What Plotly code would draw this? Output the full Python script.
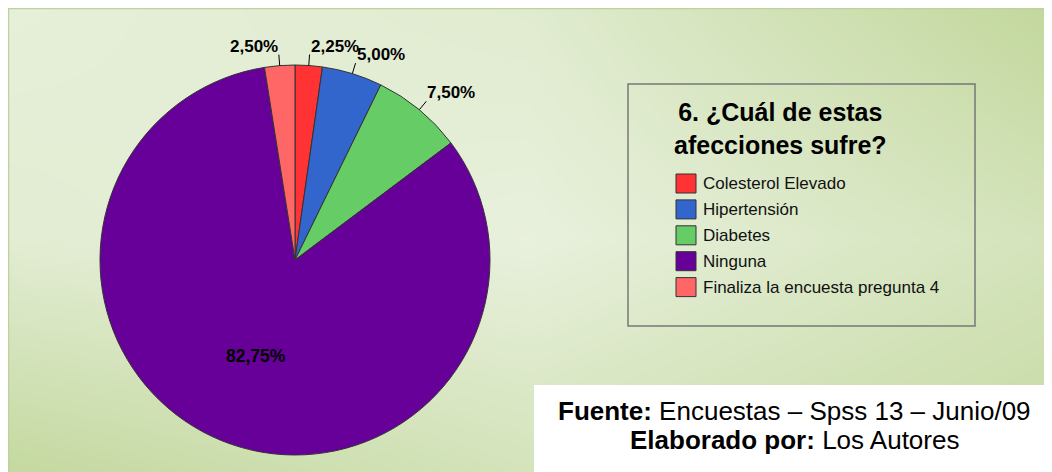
import math
import plotly.graph_objects as go

# ---------------- data ----------------
categories = ["Colesterol Elevado", "Hipertensión", "Diabetes", "Ninguna",
              "Finaliza la encuesta pregunta 4"]
values = [2.25, 5.00, 7.50, 82.75, 2.50]
slice_colors = ["#ff3333", "#3366cc", "#66cc66", "#660099", "#ff6666"]
chart_title = "6. ¿Cuál de estas<br>afecciones sufre?"
source_line1 = "<b>Fuente:</b> Encuestas – Spss 13 – Junio/09"
source_line2 = "<b>Elaborado por:</b> Los Autores"

# ---------------- layout constants (window pixels) ----------------
W, H = 1052, 472          # window size
OX, OY = 8, 8             # page body margin -> figure origin in the window
FW, FH = W - OX, H - OY   # figure size
CX, CY, R = 295, 260, 195
FONT = "Liberation Sans, Arial, sans-serif"

fig = go.Figure()

# background gradient (style only)
grad_z = [[0.10, 0.25, 1.00],
          [0.20, 0.05, 0.55],
          [0.95, 0.55, 0.90]]
fig.add_trace(go.Heatmap(
    z=grad_z, x=[OX, (OX + W) / 2, W], y=[OY, (OY + H) / 2, H], zsmooth="best",
    colorscale=[[0, "#eaf2e0"], [1, "#c2d79c"]], zmin=0, zmax=1,
    showscale=False, hoverinfo="skip", xaxis="x", yaxis="y"))

# pie
fig.add_trace(go.Pie(
    labels=categories, values=values, sort=False, direction="clockwise",
    rotation=0, textinfo="none", hoverinfo="label+percent",
    marker=dict(colors=slice_colors, line=dict(color="#333333", width=1)),
    domain=dict(x=[(CX - R - OX) / FW, (CX + R - OX) / FW],
                y=[(H - CY - R) / FH, (H - CY + R) / FH]),
    showlegend=False))

shapes = []
annotations = []

# light border of the chart area
shapes.append(dict(type="rect", xref="x", yref="y", x0=OX + 0.5, x1=W + 2, y0=OY + 0.5, y1=H + 2,
                   line=dict(color="#bcd49a", width=1.5), layer="above"))

# data labels computed from slice angles
total = sum(values)
cum = 0.0
for cat, v in zip(categories, values):
    mid = (cum + v / 2) / total * 2 * math.pi
    cum += v
    sx, sy = math.sin(mid), -math.cos(mid)
    label = f"{v:.2f}".replace(".", ",") + "%"
    if v / total > 0.5:
        annotations.append(dict(x=CX + 0.53 * R * sx, y=CY + 0.53 * R * sy,
                                xref="x", yref="y", text=f"<b>{label}</b>",
                                showarrow=False, font=dict(family=FONT, size=17.5, color="black")))
        continue
    x0, y0 = CX + R * sx, CY + R * sy
    x1, y1 = CX + (R + 11) * sx, CY + (R + 11) * sy
    shapes.append(dict(type="line", xref="x", yref="y", x0=x0, y0=y0, x1=x1, y1=y1,
                       line=dict(color="black", width=1), layer="above"))
    annotations.append(dict(x=x1, y=y1 + 2, xref="x", yref="y", text=f"<b>{label}</b>",
                            showarrow=False, xanchor="left" if sx >= 0 else "right",
                            yanchor="bottom", borderpad=0,
                            font=dict(family=FONT, size=17, color="black")))

# legend box (custom)
shapes.append(dict(type="rect", xref="x", yref="y", x0=628, x1=975, y0=84, y1=326,
                   line=dict(color="#777777", width=1.5), layer="above"))
annotations.append(dict(x=780, y=128, xref="x", yref="y", text=f"<b>{chart_title}</b>",
                        showarrow=False, align="center",
                        font=dict(family=FONT, size=25, color="black")))
for i, (cat, col) in enumerate(zip(categories, slice_colors)):
    yc = 183.5 + i * 25.9
    shapes.append(dict(type="rect", xref="x", yref="y", x0=676, x1=696,
                       y0=yc - 9.5, y1=yc + 9.5, fillcolor=col,
                       line=dict(color="#333333", width=1), layer="above"))
    annotations.append(dict(x=701, y=yc, xref="x", yref="y", text=cat, showarrow=False,
                            xanchor="left", yanchor="middle",
                            font=dict(family=FONT, size=17, color="#111111")))

# source box
shapes.append(dict(type="rect", xref="x", yref="y", x0=534, x1=W + 2, y0=385, y1=H + 2,
                   fillcolor="white", line_width=0, layer="above"))
annotations.append(dict(x=794, y=411, xref="x", yref="y", text=source_line1, showarrow=False,
                        font=dict(family=FONT, size=26, color="black")))
annotations.append(dict(x=794, y=440, xref="x", yref="y", text=source_line2, showarrow=False,
                        font=dict(family=FONT, size=26, color="black")))

fig.update_layout(
    width=FW, height=FH, margin=dict(l=0, r=0, t=0, b=0),
    paper_bgcolor="white", plot_bgcolor="white",
    xaxis=dict(range=[OX, W], visible=False, domain=[0, 1], fixedrange=True),
    yaxis=dict(range=[H, OY], visible=False, domain=[0, 1], fixedrange=True),
    shapes=shapes, annotations=annotations, showlegend=False)

fig.write_html("out.html")
